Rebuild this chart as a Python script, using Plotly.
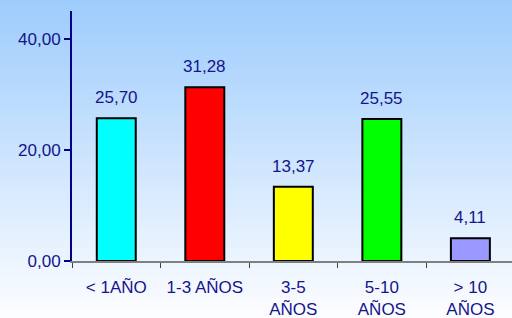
import plotly.graph_objects as go

categories = ["< 1AÑO", "1-3 AÑOS", "3-5<br>AÑOS", "5-10<br>AÑOS", "> 10<br>AÑOS"]
values = [25.70, 31.28, 13.37, 25.55, 4.11]
bar_colors = ["#00FFFF", "#FF0000", "#FFFF00", "#00FF00", "#9999FF"]
y_ticks = [0, 20, 40]

W, H = 512, 318
ml, mr, mt, mb = 72, 0, 11, 57
text_color = "#14148C"
font_family = "Liberation Sans, Arial, sans-serif"

fig = go.Figure()
fig.add_trace(go.Bar(
    x=categories, y=values,
    marker=dict(color=bar_colors, line=dict(color="black", width=2)),
    width=0.44,
    hoverinfo="skip",
))

for c, v in zip(categories, values):
    fig.add_annotation(
        x=c, y=v, xref="x", yref="y",
        text=f"{v:.2f}".replace(".", ","),
        showarrow=False, yanchor="bottom", yshift=9,
        font=dict(size=17, color=text_color, family=font_family),
    )

# gradient background
pw = W - ml - mr
ph = H - mt - mb
y_top = (H - mb) / ph
y_bot = -mb / ph
x_left = -ml / pw
x_right = 1 + mr / pw
n = 64
top = (158, 204, 252)
bot = (252, 253, 255)
shapes = []
for i in range(n):
    t = i / (n - 1)
    r = round(top[0] + (bot[0] - top[0]) * t)
    g = round(top[1] + (bot[1] - top[1]) * t)
    b = round(top[2] + (bot[2] - top[2]) * t)
    y1 = y_top - (y_top - y_bot) * i / n
    y0 = y_top - (y_top - y_bot) * (i + 1) / n
    shapes.append(dict(type="rect", xref="paper", yref="paper",
                       x0=x_left, x1=x_right, y0=y0 - 0.002, y1=y1 + 0.002,
                       fillcolor=f"rgb({r},{g},{b})", line=dict(width=0),
                       layer="below"))

fig.update_layout(
    width=W, height=H,
    margin=dict(l=ml, r=mr, t=mt, b=mb, autoexpand=False),
    paper_bgcolor="white", plot_bgcolor="rgba(0,0,0,0)",
    separators=",.",
    showlegend=False,
    shapes=shapes,
    font=dict(family=font_family, size=17, color=text_color),
    xaxis=dict(
        range=[-0.5, 4.47], automargin=False,
        showgrid=False, zeroline=False,
        showline=True, linecolor="#808080", linewidth=1.5,
        ticks="outside", tickson="boundaries", ticklen=5, tickcolor="#404040",
        ticklabelstandoff=10,
        tickfont=dict(size=17, color=text_color),
    ),
    yaxis=dict(
        range=[0, 45], automargin=False,
        tickvals=y_ticks, tickformat=".2f",
        showgrid=False, zeroline=False,
        showline=True, linecolor="#00008B", linewidth=2,
        ticks="outside", ticklen=6, tickcolor="#00008B", tickwidth=2,
        tickfont=dict(size=17, color=text_color),
    ),
)

fig.write_html("out.html", config={"displayModeBar": False},
               post_script="document.body.style.margin='0';")
